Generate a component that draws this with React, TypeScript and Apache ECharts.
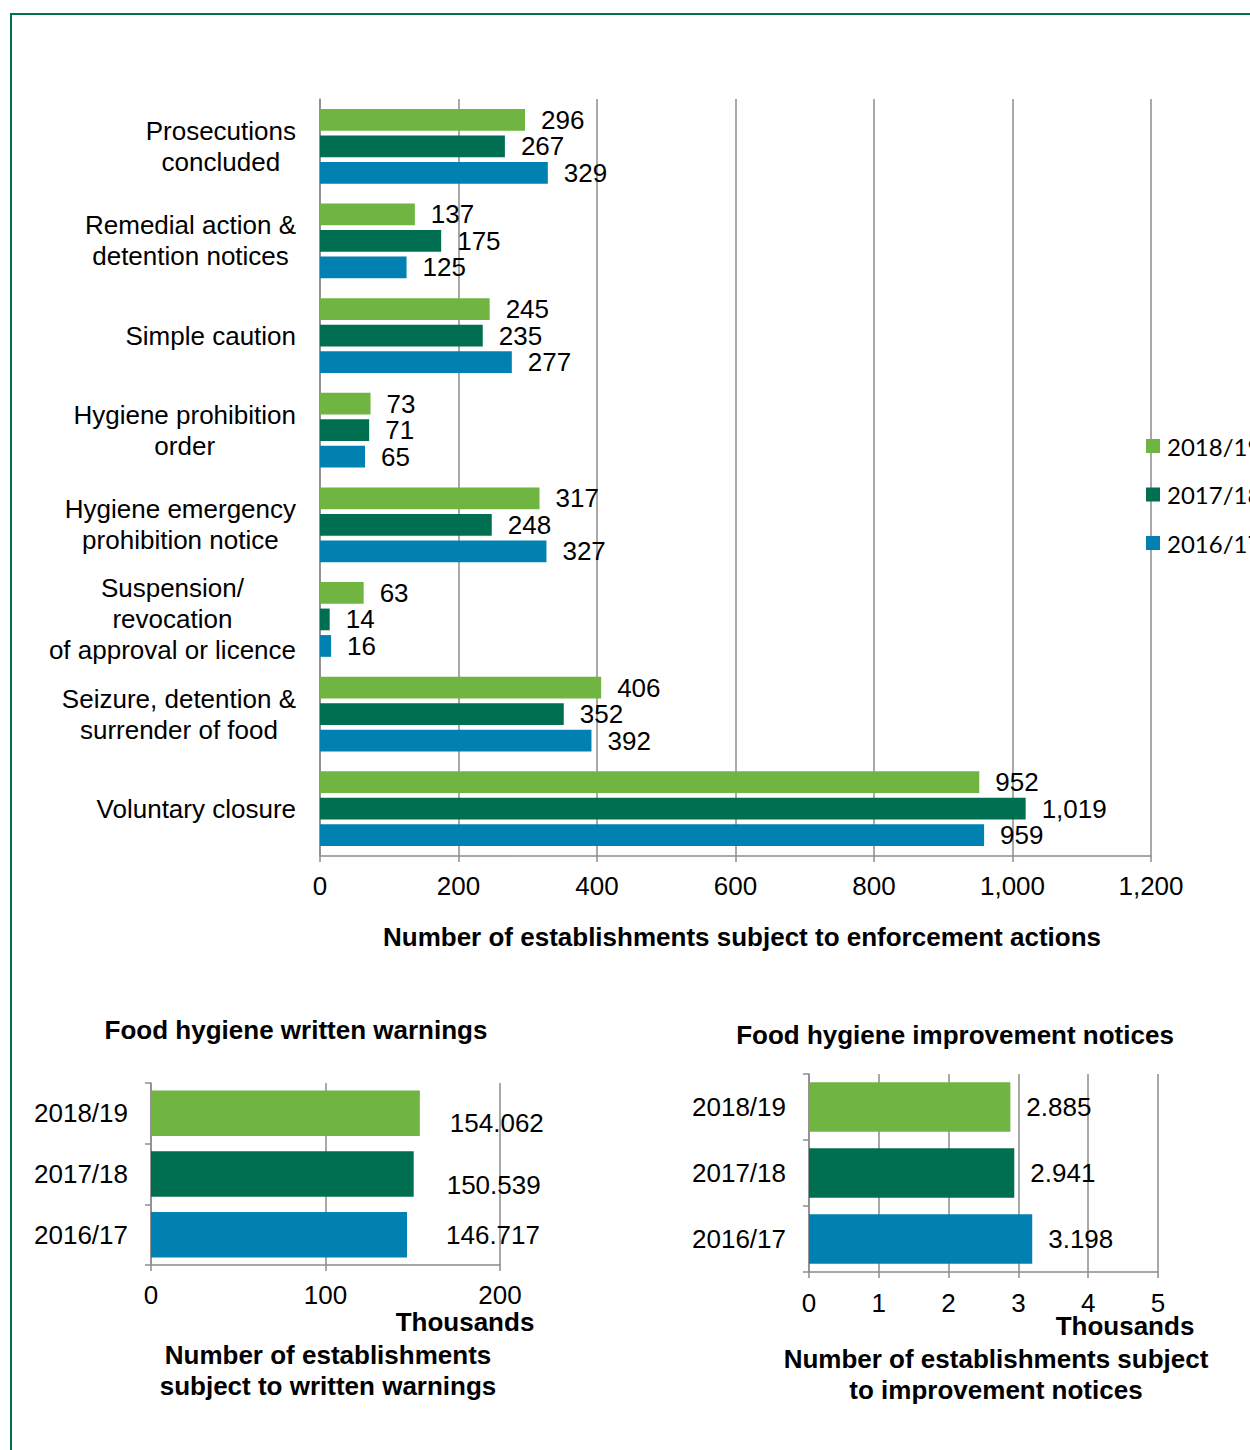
import React, { useEffect, useRef } from "react";
import * as echarts from "echarts";

const categories = [
  "Prosecutions\nconcluded",
  "Remedial action &\ndetention notices",
  "Simple caution",
  "Hygiene prohibition\norder",
  "Hygiene emergency\nprohibition notice",
  "Suspension/\nrevocation\nof approval or licence",
  "Seizure, detention &\nsurrender of food",
  "Voluntary closure",
];
const years = ["2018/19", "2017/18", "2016/17"];
const values201819 = [296, 137, 245, 73, 317, 63, 406, 952];
const values201718 = [267, 175, 235, 71, 248, 14, 352, 1019];
const values201617 = [329, 125, 277, 65, 327, 16, 392, 959];

const warningYears = ["2018/19", "2017/18", "2016/17"];
const warningValues = [154.062, 150.539, 146.717]; // thousands
const improvementYears = ["2018/19", "2017/18", "2016/17"];
const improvementValues = [2.885, 2.941, 3.198]; // thousands

const COLORS = ["#70B441", "#006E51", "#0081B2"];
const GRAY = "#8c8c8c";
const FONT = "'Liberation Sans', Arial, sans-serif";
const FS = 26;
// label nudges (style only) for the written-warnings value labels
const WARNING_LABEL_OFFSETS = [
  [2, 10],
  [5, 11],
  [11, 0],
];

const fmtThousands = (v: number) => v.toLocaleString("en-US");

export default function App() {
  const ref = useRef<HTMLDivElement>(null);

  useEffect(() => {
    if (!ref.current) return;
    const chart = echarts.init(ref.current, undefined, { renderer: "svg" });

    const axisLine = { show: true, lineStyle: { color: GRAY, width: 1.5 } };
    const splitLine = { show: true, lineStyle: { color: GRAY, width: 1.5 } };
    const axisTick = { show: true, length: 6, lineStyle: { color: GRAY, width: 1.5 } };
    const tickLabel = { fontFamily: FONT, fontSize: FS, color: "#000" };

    const catLabelFormatter = (v: string) =>
      v
        .split("\n")
        .map((l) => `{c|${l}}`)
        .join("\n");

    const topSeries = [values201819, values201718, values201617].map((vals, i) => ({
      name: years[i],
      type: "bar",
      xAxisIndex: 0,
      yAxisIndex: 0,
      data: vals,
      barGap: "22%",
      barCategoryGap: "21%",
      itemStyle: { color: COLORS[i] },
      label: {
        show: true,
        position: "right",
        distance: 16,
        formatter: (p: any) => fmtThousands(p.value),
        fontFamily: FONT,
        fontSize: FS,
        color: "#000",
      },
    }));

    const boldText = (text: string, x: number, y: number) => ({
      type: "text",
      x,
      y,
      style: {
        text,
        fontFamily: FONT,
        fontSize: FS,
        lineHeight: 31,
        fontWeight: "bold",
        fill: "#000",
        align: "center",
        verticalAlign: "middle",
      },
    });

    const option: any = {
      animation: false,
      backgroundColor: "#ffffff",
      grid: [
        { left: 320, top: 99, width: 831, height: 757, containLabel: false },
        { left: 151, top: 1083, width: 349, height: 182, containLabel: false },
        { left: 809, top: 1074, width: 349, height: 198, containLabel: false },
      ],
      legend: {
        data: years,
        orient: "vertical",
        left: 1141,
        top: 429,
        itemWidth: 14,
        itemHeight: 14,
        itemGap: 24.5,
        icon: "rect",
        textStyle: {
          fontFamily: "Lato, 'Open Sans', sans-serif",
          fontSize: 24,
          lineHeight: 24,
          color: "#000",
          padding: [0, 0, 0, 2],
        },
      },
      xAxis: [
        {
          type: "value",
          gridIndex: 0,
          min: 0,
          max: 1200,
          interval: 200,
          axisLine,
          axisTick,
          splitLine,
          axisLabel: { ...tickLabel, margin: 17, formatter: (v: number) => fmtThousands(v) },
        },
        {
          type: "value",
          gridIndex: 1,
          min: 0,
          max: 200,
          interval: 100,
          axisLine,
          axisTick,
          splitLine,
          axisLabel: { ...tickLabel, margin: 17 },
        },
        {
          type: "value",
          gridIndex: 2,
          min: 0,
          max: 5,
          interval: 1,
          axisLine,
          axisTick,
          splitLine,
          axisLabel: { ...tickLabel, margin: 18 },
        },
      ],
      yAxis: [
        {
          type: "category",
          gridIndex: 0,
          data: categories,
          inverse: true,
          axisLine,
          axisTick: { show: false },
          axisLabel: {
            margin: 24,
            align: "right",
            formatter: catLabelFormatter,
            rich: {
              c: { align: "center", fontFamily: FONT, fontSize: FS, lineHeight: 31, color: "#000" },
            },
          },
        },
        {
          type: "category",
          gridIndex: 1,
          data: warningYears,
          inverse: true,
          axisLine,
          axisTick: { ...axisTick, alignWithLabel: false },
          axisLabel: { ...tickLabel, margin: 23 },
        },
        {
          type: "category",
          gridIndex: 2,
          data: improvementYears,
          inverse: true,
          axisLine,
          axisTick: { ...axisTick, alignWithLabel: false },
          axisLabel: { ...tickLabel, margin: 23 },
        },
      ],
      series: [
        ...topSeries,
        {
          name: "Written warnings",
          type: "bar",
          xAxisIndex: 1,
          yAxisIndex: 1,
          barCategoryGap: "25%",
          data: warningValues.map((v, i) => ({
            value: v,
            itemStyle: { color: COLORS[i] },
            label: { offset: WARNING_LABEL_OFFSETS[i] },
          })),
          label: {
            show: true,
            position: "right",
            distance: 28,
            formatter: (p: any) => p.value.toFixed(3),
            fontFamily: FONT,
            fontSize: FS,
            color: "#000",
          },
        },
        {
          name: "Improvement notices",
          type: "bar",
          xAxisIndex: 2,
          yAxisIndex: 2,
          barCategoryGap: "25%",
          data: improvementValues.map((v, i) => ({ value: v, itemStyle: { color: COLORS[i] } })),
          label: {
            show: true,
            position: "right",
            distance: 16,
            formatter: (p: any) => p.value.toFixed(3),
            fontFamily: FONT,
            fontSize: FS,
            color: "#000",
          },
        },
      ],
      graphic: [
        {
          type: "rect",
          shape: { x: 11, y: 14, width: 1400, height: 1600 },
          style: { fill: "none", stroke: "#00704F", lineWidth: 2 },
          silent: true,
        },
        boldText("Number of establishments subject to enforcement actions", 742, 937),
        boldText("Food hygiene written warnings", 296, 1030),
        boldText("Food hygiene improvement notices", 955, 1035),
        boldText("Thousands", 465, 1322),
        boldText("Thousands", 1125, 1326),
        boldText("Number of establishments\nsubject to written warnings", 328, 1370.5),
        boldText("Number of establishments subject\nto improvement notices", 996, 1374.5),
      ],
    };

    chart.setOption(option);
    return () => chart.dispose();
  }, []);

  return (
    <div
      ref={ref}
      style={{ position: "absolute", left: 0, top: 0, width: 1250, height: 1450, overflow: "hidden" }}
    />
  );
}
